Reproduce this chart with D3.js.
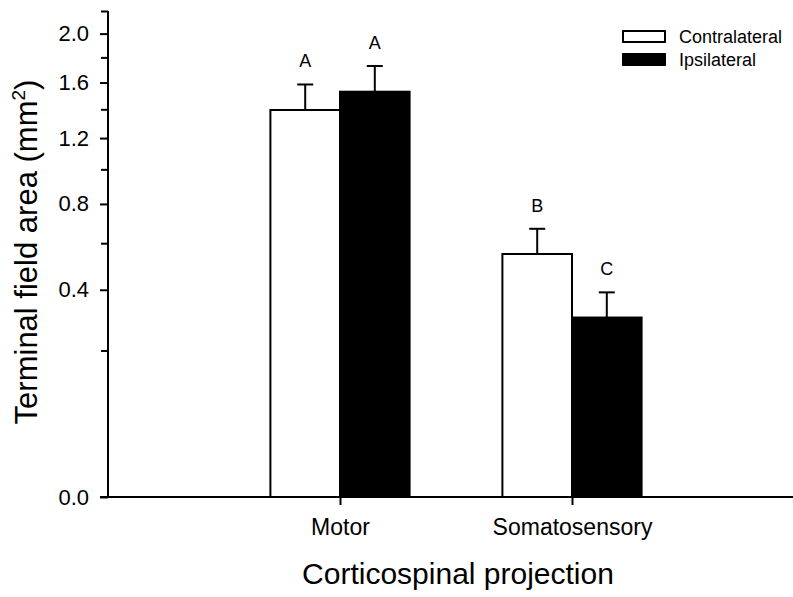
<!DOCTYPE html>
<html>
<head>
<meta charset="utf-8">
<script src="https://cdn.jsdelivr.net/npm/d3@7"></script>
<style>
  body { margin: 0; background: #fff; }
  svg { display: block; }
  text { font-family: "Liberation Sans", Arial, sans-serif; fill: #000; }
</style>
</head>
<body>
<div id="chart"></div>
<script>
// data
var categories = ["Motor", "Somatosensory"];
var seriesNames = ["Contralateral", "Ipsilateral"];
var contralateral = [1.395, 0.55];
var ipsilateral = [1.53, 0.30];
var contraErr = [0.19, 0.12];
var ipsiErr = [0.20, 0.09];
var contraLetters = ["A", "B"];
var ipsiLetters = ["A", "C"];
var majorTicks = [0, 0.4, 0.8, 1.2, 1.6, 2.0];
var minorTicks = [0.2, 0.6, 1.0, 1.4, 1.8, 2.2];

var width = 793, height = 597;

var svg = d3.select("#chart")
  .append("svg")
  .attr("width", width)
  .attr("height", height);

// y axis is square-root scaled in the original
var y = d3.scaleSqrt().domain([0, 2.2]).range([497, 11]);
// categories sit at 1 and 2 on a 0..3 axis
var x = d3.scaleLinear().domain([0, 3]).range([108, 804]);
var barW = 0.3; // in x units

var rows = [];
categories.forEach(function(c, i) {
  rows.push({cat: i + 1, v: contralateral[i], e: contraErr[i], lab: contraLetters[i], fill: "#fff", off: -barW});
  rows.push({cat: i + 1, v: ipsilateral[i], e: ipsiErr[i], lab: ipsiLetters[i], fill: "#000", off: 0});
});

// bars
svg.append("g").selectAll("rect")
  .data(rows)
  .join("rect")
  .attr("x", d => x(d.cat + d.off))
  .attr("width", d => x(d.cat + d.off + barW) - x(d.cat + d.off))
  .attr("y", d => y(d.v))
  .attr("height", d => y(0) - y(d.v))
  .attr("fill", d => d.fill)
  .attr("stroke", "#000")
  .attr("stroke-width", 2);

// error bars (upper only)
var eb = svg.append("g").attr("stroke", "#000").attr("stroke-width", 2);
eb.selectAll("line.stem")
  .data(rows)
  .join("line")
  .attr("class", "stem")
  .attr("x1", d => x(d.cat + d.off + barW / 2))
  .attr("x2", d => x(d.cat + d.off + barW / 2))
  .attr("y1", d => y(d.v))
  .attr("y2", d => y(d.v + d.e));
eb.selectAll("line.cap")
  .data(rows)
  .join("line")
  .attr("class", "cap")
  .attr("x1", d => x(d.cat + d.off + barW / 2) - 8)
  .attr("x2", d => x(d.cat + d.off + barW / 2) + 8)
  .attr("y1", d => y(d.v + d.e))
  .attr("y2", d => y(d.v + d.e));

// significance letters
svg.append("g").selectAll("text")
  .data(rows)
  .join("text")
  .attr("x", d => x(d.cat + d.off + barW / 2))
  .attr("y", d => y(d.v + d.e) - 17)
  .attr("text-anchor", "middle")
  .attr("font-size", 18)
  .text(d => d.lab);

// y axis
var yAxis = svg.append("g")
  .attr("transform", "translate(" + x(0) + ",0)")
  .call(d3.axisLeft(y).tickValues(majorTicks).tickFormat(d3.format(".1f")).tickSize(8).tickPadding(11));
yAxis.selectAll("text").attr("font-size", 22).style("font-family", '"Liberation Sans", Arial, sans-serif');
yAxis.select(".domain").attr("d", "M0," + y(2.2) + "V" + y(0));
svg.append("g")
  .attr("transform", "translate(" + x(0) + ",0)")
  .call(d3.axisLeft(y).tickValues(minorTicks).tickFormat("").tickSize(7))
  .select(".domain").remove();

// x axis
var xAxis = svg.append("g")
  .attr("transform", "translate(0," + y(0) + ")")
  .call(d3.axisBottom(x).tickValues([1, 2]).tickFormat((d, i) => categories[i]).tickSize(8).tickPadding(14));
xAxis.selectAll("text").attr("font-size", 23).style("font-family", '"Liberation Sans", Arial, sans-serif');
xAxis.select(".domain").attr("d", "M" + (x(0) - 8) + ",0H" + x(3));

svg.selectAll(".domain, .tick line").attr("stroke", "#000").attr("stroke-width", 2);

// axis titles
svg.append("text")
  .attr("x", 458)
  .attr("y", 584)
  .attr("text-anchor", "middle")
  .attr("font-size", 30)
  .text("Corticospinal projection");

var yt = svg.append("text")
  .attr("transform", "translate(37,252) rotate(-90)")
  .attr("text-anchor", "middle")
  .attr("font-size", 31);
yt.append("tspan").text("Terminal field area (mm");
yt.append("tspan").attr("font-size", 19).attr("dy", -12).text("2");
yt.append("tspan").attr("dy", 12).text(")");

// legend
var legend = svg.append("g").attr("transform", "translate(623,31)");
legend.selectAll("rect")
  .data(seriesNames)
  .join("rect")
  .attr("x", 0)
  .attr("y", (d, i) => i * 23)
  .attr("width", 42)
  .attr("height", 11)
  .attr("fill", (d, i) => i === 0 ? "#fff" : "#000")
  .attr("stroke", "#000")
  .attr("stroke-width", 2);
legend.selectAll("text")
  .data(seriesNames)
  .join("text")
  .attr("x", 56)
  .attr("y", (d, i) => 12 + i * 23)
  .attr("font-size", 18)
  .text(d => d);
</script>
</body>
</html>
